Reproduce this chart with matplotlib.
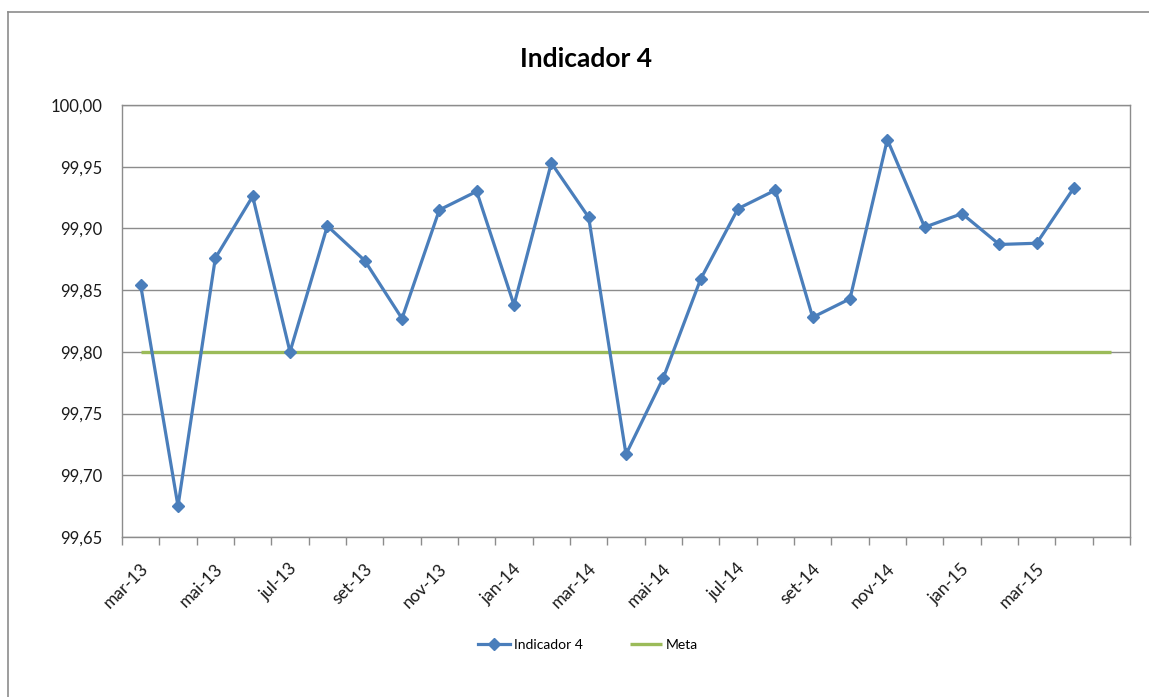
import matplotlib
matplotlib.use("Agg")
import matplotlib.pyplot as plt
import matplotlib.transforms as mtransforms
from matplotlib.lines import Line2D
import numpy as np

# ---- data ----
categories = ["mar-13", "abr-13", "mai-13", "jun-13", "jul-13", "ago-13", "set-13",
              "out-13", "nov-13", "dez-13", "jan-14", "fev-14", "mar-14", "abr-14",
              "mai-14", "jun-14", "jul-14", "ago-14", "set-14", "out-14", "nov-14",
              "dez-14", "jan-15", "fev-15", "mar-15", "abr-15", ""]
indicador = [99.854, 99.675, 99.876, 99.926, 99.800, 99.902, 99.874, 99.827,
             99.915, 99.930, 99.838, 99.953, 99.909, 99.717, 99.779, 99.859,
             99.916, 99.931, 99.828, 99.843, 99.972, 99.901, 99.912, 99.887,
             99.888, 99.933, np.nan]
meta = [99.80] * 27
y_ticks = [99.65, 99.70, 99.75, 99.80, 99.85, 99.90, 99.95, 100.00]
y_tick_labels = ["99,65", "99,70", "99,75", "99,80", "99,85", "99,90", "99,95", "100,00"]
title = "Indicador 4"

plt.rcParams['font.family'] = ['Lato', 'DejaVu Sans']

W, H = 1149, 697
fig = plt.figure(figsize=(W / 100, H / 100), dpi=100)
fig.patch.set_facecolor("white")

left, right, top, bottom = 122, 1130, 105, 537
ax = fig.add_axes([left / W, 1 - bottom / H, (right - left) / W, (bottom - top) / H])

x = np.arange(len(categories))
blue = "#4A7EBB"
green = "#9BBB59"
grid_c = "#8C8C8C"

ax.plot(x, meta, color=green, lw=2.4, label="Meta", zorder=3, solid_capstyle="butt")
ax.plot(x, indicador, color=blue, lw=2.3, marker="D", markersize=6.5,
        markerfacecolor=blue, markeredgecolor=blue, label="Indicador 4", zorder=4)

ax.set_xlim(-0.5, len(categories) - 0.5)
ax.set_ylim(99.65, 100.00)

ax.set_yticks(y_ticks)
ax.set_yticklabels(y_tick_labels, fontsize=12, color="#1a1a1a")
ax.tick_params(axis="y", length=0, pad=14)
ax.yaxis.grid(True, color=grid_c, lw=1.0)
ax.set_axisbelow(True)

# x ticks: marks at category boundaries, labels every second category
ax.set_xticks(np.arange(-0.5, len(categories), 1.0), minor=True)
ax.set_xticks(x[::2][:-1])
ax.set_xticklabels(categories[::2][:-1], fontsize=12.5, color="#1a1a1a",
                   rotation=45, ha="right", va="center", rotation_mode="anchor")
ax.tick_params(axis="x", which="major", length=0, pad=21)
ax.tick_params(axis="x", which="minor", length=6, color=grid_c, width=1)
offset = mtransforms.ScaledTranslation(5 / 100, 0, fig.dpi_scale_trans)
for lbl in ax.get_xticklabels():
    lbl.set_transform(lbl.get_transform() + offset)

for s in ["left", "bottom", "right", "top"]:
    ax.spines[s].set_color(grid_c)
    ax.spines[s].set_linewidth(1.0)

fig.text(586 / W, 1 - 59 / H, title, ha="center", va="center",
         fontsize=19, fontweight="bold", color="black")

handles, labels = ax.get_legend_handles_labels()
leg = fig.legend(handles[::-1], labels[::-1], loc="center", bbox_to_anchor=(588 / W, 1 - 645 / H),
                 ncol=2, frameon=False, fontsize=10, handlelength=2.3, handletextpad=0.25,
                 columnspacing=3.4)

# outer chart border (left and top visible)
fig.add_artist(Line2D([7.5 / W, 7.5 / W], [0, 1 - 11.5 / H], transform=fig.transFigure,
                      color=grid_c, lw=1.2))
fig.add_artist(Line2D([7.5 / W, 1], [1 - 11.5 / H, 1 - 11.5 / H], transform=fig.transFigure,
                      color=grid_c, lw=1.2))

fig.savefig("out.png", dpi=100)
